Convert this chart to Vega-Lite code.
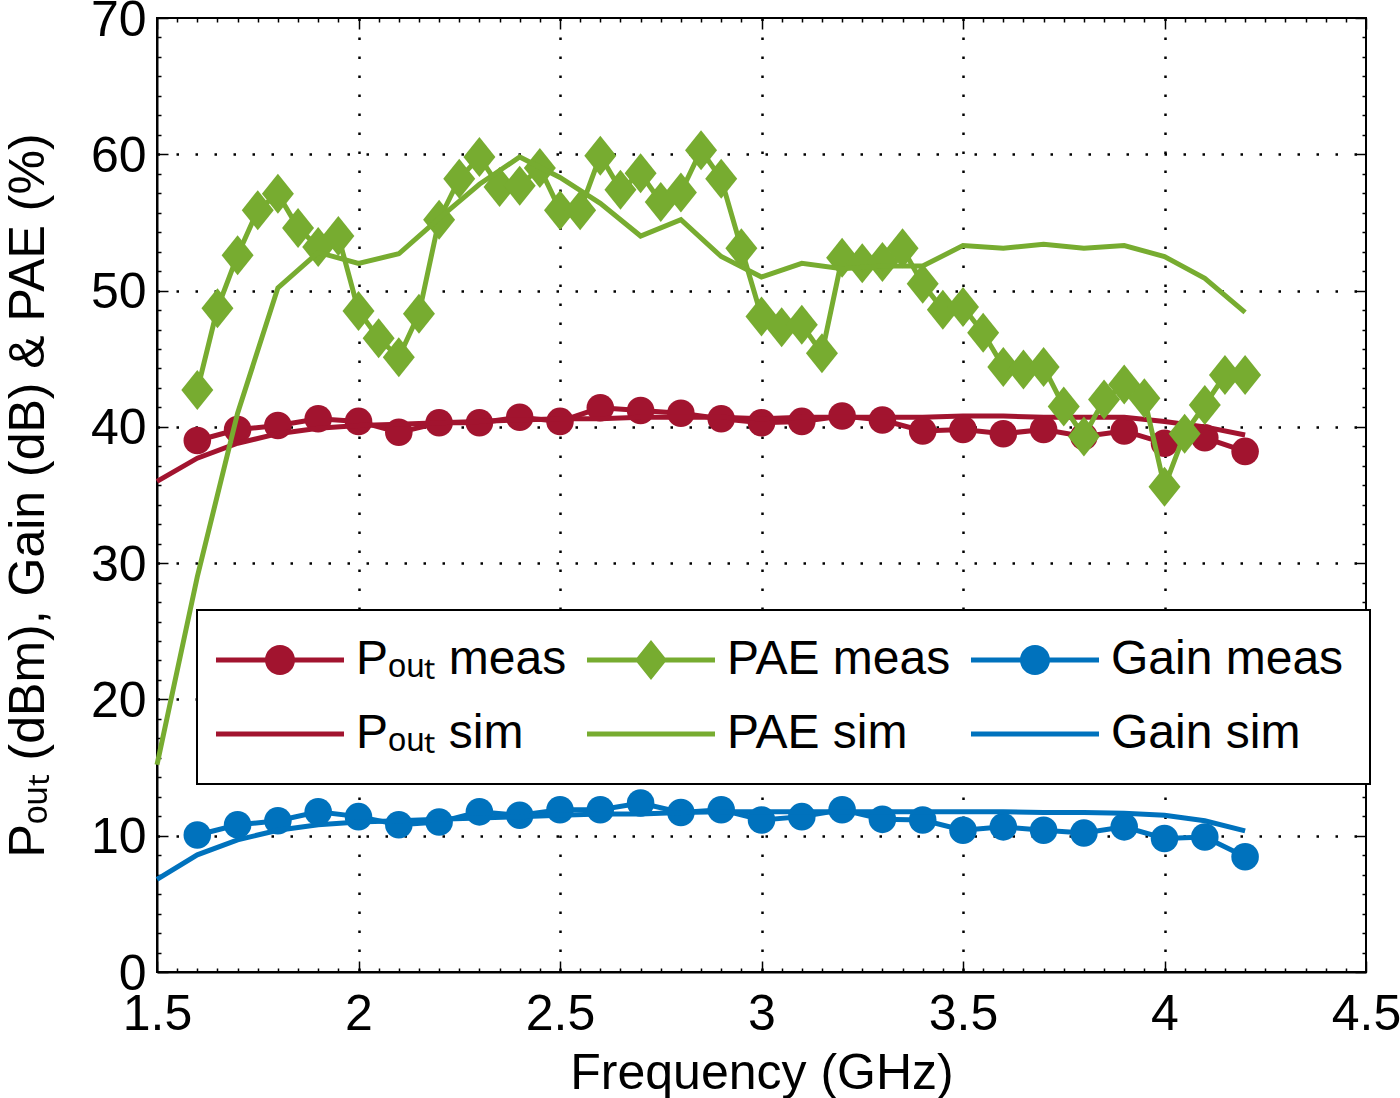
{
  "$schema": "https://vega.github.io/schema/vega-lite/v6.json",
  "width": 1209,
  "height": 954,
  "autosize": {"type": "none"},
  "padding": {"left": 157, "top": 18, "right": 34, "bottom": 126},
  "background": "white",
  "config": {
    "view": {"stroke": "black", "strokeWidth": 2},
    "font": "Liberation Sans",
    "legend": {"strokeWidth": 2}
  },
  "data": {"values": [
    {"f":1.6,"v":39.0,"s":"Pout meas"},{"f":1.7,"v":39.8,"s":"Pout meas"},{"f":1.8,"v":40.1,"s":"Pout meas"},{"f":1.9,"v":40.6,"s":"Pout meas"},{"f":2.0,"v":40.4,"s":"Pout meas"},{"f":2.1,"v":39.6,"s":"Pout meas"},{"f":2.2,"v":40.3,"s":"Pout meas"},{"f":2.3,"v":40.3,"s":"Pout meas"},{"f":2.4,"v":40.7,"s":"Pout meas"},{"f":2.5,"v":40.4,"s":"Pout meas"},{"f":2.6,"v":41.4,"s":"Pout meas"},{"f":2.7,"v":41.2,"s":"Pout meas"},{"f":2.8,"v":41.0,"s":"Pout meas"},{"f":2.9,"v":40.6,"s":"Pout meas"},{"f":3.0,"v":40.3,"s":"Pout meas"},{"f":3.1,"v":40.4,"s":"Pout meas"},{"f":3.2,"v":40.8,"s":"Pout meas"},{"f":3.3,"v":40.5,"s":"Pout meas"},{"f":3.4,"v":39.7,"s":"Pout meas"},{"f":3.5,"v":39.8,"s":"Pout meas"},{"f":3.6,"v":39.5,"s":"Pout meas"},{"f":3.7,"v":39.8,"s":"Pout meas"},{"f":3.8,"v":39.3,"s":"Pout meas"},{"f":3.9,"v":39.7,"s":"Pout meas"},{"f":4.0,"v":38.8,"s":"Pout meas"},{"f":4.1,"v":39.2,"s":"Pout meas"},{"f":4.2,"v":38.2,"s":"Pout meas"},

    {"f":1.5,"v":36.0,"s":"Pout sim"},{"f":1.6,"v":37.7,"s":"Pout sim"},{"f":1.7,"v":38.8,"s":"Pout sim"},{"f":1.8,"v":39.5,"s":"Pout sim"},{"f":1.9,"v":39.9,"s":"Pout sim"},{"f":2.0,"v":40.1,"s":"Pout sim"},{"f":2.1,"v":40.2,"s":"Pout sim"},{"f":2.2,"v":40.3,"s":"Pout sim"},{"f":2.3,"v":40.4,"s":"Pout sim"},{"f":2.4,"v":40.5,"s":"Pout sim"},{"f":2.5,"v":40.6,"s":"Pout sim"},{"f":2.6,"v":40.6,"s":"Pout sim"},{"f":2.7,"v":40.7,"s":"Pout sim"},{"f":2.8,"v":40.7,"s":"Pout sim"},{"f":2.9,"v":40.7,"s":"Pout sim"},{"f":3.0,"v":40.6,"s":"Pout sim"},{"f":3.1,"v":40.7,"s":"Pout sim"},{"f":3.2,"v":40.7,"s":"Pout sim"},{"f":3.3,"v":40.7,"s":"Pout sim"},{"f":3.4,"v":40.7,"s":"Pout sim"},{"f":3.5,"v":40.8,"s":"Pout sim"},{"f":3.6,"v":40.8,"s":"Pout sim"},{"f":3.7,"v":40.7,"s":"Pout sim"},{"f":3.8,"v":40.7,"s":"Pout sim"},{"f":3.9,"v":40.7,"s":"Pout sim"},{"f":4.0,"v":40.4,"s":"Pout sim"},{"f":4.1,"v":40.0,"s":"Pout sim"},{"f":4.2,"v":39.4,"s":"Pout sim"},

    {"f":1.6,"v":42.7,"s":"PAE meas"},{"f":1.65,"v":48.7,"s":"PAE meas"},{"f":1.7,"v":52.6,"s":"PAE meas"},{"f":1.75,"v":55.9,"s":"PAE meas"},{"f":1.8,"v":57.1,"s":"PAE meas"},{"f":1.85,"v":54.6,"s":"PAE meas"},{"f":1.9,"v":53.2,"s":"PAE meas"},{"f":1.95,"v":54.0,"s":"PAE meas"},{"f":2.0,"v":48.5,"s":"PAE meas"},{"f":2.05,"v":46.5,"s":"PAE meas"},{"f":2.1,"v":45.1,"s":"PAE meas"},{"f":2.15,"v":48.3,"s":"PAE meas"},{"f":2.2,"v":55.2,"s":"PAE meas"},{"f":2.25,"v":58.2,"s":"PAE meas"},{"f":2.3,"v":59.8,"s":"PAE meas"},{"f":2.35,"v":57.6,"s":"PAE meas"},{"f":2.4,"v":57.7,"s":"PAE meas"},{"f":2.45,"v":59.0,"s":"PAE meas"},{"f":2.5,"v":55.9,"s":"PAE meas"},{"f":2.55,"v":55.9,"s":"PAE meas"},{"f":2.6,"v":59.9,"s":"PAE meas"},{"f":2.65,"v":57.4,"s":"PAE meas"},{"f":2.7,"v":58.6,"s":"PAE meas"},{"f":2.75,"v":56.5,"s":"PAE meas"},{"f":2.8,"v":57.2,"s":"PAE meas"},{"f":2.85,"v":60.3,"s":"PAE meas"},{"f":2.9,"v":58.2,"s":"PAE meas"},{"f":2.95,"v":53.1,"s":"PAE meas"},{"f":3.0,"v":48.1,"s":"PAE meas"},{"f":3.05,"v":47.3,"s":"PAE meas"},{"f":3.1,"v":47.5,"s":"PAE meas"},{"f":3.15,"v":45.4,"s":"PAE meas"},{"f":3.2,"v":52.4,"s":"PAE meas"},{"f":3.25,"v":52.0,"s":"PAE meas"},{"f":3.3,"v":52.1,"s":"PAE meas"},{"f":3.35,"v":53.1,"s":"PAE meas"},{"f":3.4,"v":50.5,"s":"PAE meas"},{"f":3.45,"v":48.6,"s":"PAE meas"},{"f":3.5,"v":48.8,"s":"PAE meas"},{"f":3.55,"v":46.9,"s":"PAE meas"},{"f":3.6,"v":44.4,"s":"PAE meas"},{"f":3.65,"v":44.2,"s":"PAE meas"},{"f":3.7,"v":44.4,"s":"PAE meas"},{"f":3.75,"v":41.5,"s":"PAE meas"},{"f":3.8,"v":39.3,"s":"PAE meas"},{"f":3.85,"v":42.0,"s":"PAE meas"},{"f":3.9,"v":43.1,"s":"PAE meas"},{"f":3.95,"v":42.1,"s":"PAE meas"},{"f":4.0,"v":35.6,"s":"PAE meas"},{"f":4.05,"v":39.5,"s":"PAE meas"},{"f":4.1,"v":41.6,"s":"PAE meas"},{"f":4.15,"v":43.8,"s":"PAE meas"},{"f":4.2,"v":43.8,"s":"PAE meas"},

    {"f":1.5,"v":15.2,"s":"PAE sim"},{"f":1.6,"v":29.0,"s":"PAE sim"},{"f":1.7,"v":41.0,"s":"PAE sim"},{"f":1.8,"v":50.2,"s":"PAE sim"},{"f":1.9,"v":52.8,"s":"PAE sim"},{"f":2.0,"v":52.0,"s":"PAE sim"},{"f":2.1,"v":52.7,"s":"PAE sim"},{"f":2.2,"v":55.3,"s":"PAE sim"},{"f":2.3,"v":57.8,"s":"PAE sim"},{"f":2.4,"v":59.8,"s":"PAE sim"},{"f":2.5,"v":58.3,"s":"PAE sim"},{"f":2.6,"v":56.4,"s":"PAE sim"},{"f":2.7,"v":54.0,"s":"PAE sim"},{"f":2.8,"v":55.2,"s":"PAE sim"},{"f":2.9,"v":52.5,"s":"PAE sim"},{"f":3.0,"v":51.0,"s":"PAE sim"},{"f":3.1,"v":52.0,"s":"PAE sim"},{"f":3.2,"v":51.6,"s":"PAE sim"},{"f":3.3,"v":51.8,"s":"PAE sim"},{"f":3.4,"v":51.8,"s":"PAE sim"},{"f":3.5,"v":53.3,"s":"PAE sim"},{"f":3.6,"v":53.1,"s":"PAE sim"},{"f":3.7,"v":53.4,"s":"PAE sim"},{"f":3.8,"v":53.1,"s":"PAE sim"},{"f":3.9,"v":53.3,"s":"PAE sim"},{"f":4.0,"v":52.5,"s":"PAE sim"},{"f":4.1,"v":50.9,"s":"PAE sim"},{"f":4.2,"v":48.4,"s":"PAE sim"},

    {"f":1.6,"v":10.05,"s":"Gain meas"},{"f":1.7,"v":10.8,"s":"Gain meas"},{"f":1.8,"v":11.1,"s":"Gain meas"},{"f":1.9,"v":11.75,"s":"Gain meas"},{"f":2.0,"v":11.4,"s":"Gain meas"},{"f":2.1,"v":10.8,"s":"Gain meas"},{"f":2.2,"v":11.0,"s":"Gain meas"},{"f":2.3,"v":11.75,"s":"Gain meas"},{"f":2.4,"v":11.5,"s":"Gain meas"},{"f":2.5,"v":11.9,"s":"Gain meas"},{"f":2.6,"v":11.9,"s":"Gain meas"},{"f":2.7,"v":12.4,"s":"Gain meas"},{"f":2.8,"v":11.7,"s":"Gain meas"},{"f":2.9,"v":11.9,"s":"Gain meas"},{"f":3.0,"v":11.15,"s":"Gain meas"},{"f":3.1,"v":11.4,"s":"Gain meas"},{"f":3.2,"v":11.9,"s":"Gain meas"},{"f":3.3,"v":11.2,"s":"Gain meas"},{"f":3.4,"v":11.15,"s":"Gain meas"},{"f":3.5,"v":10.4,"s":"Gain meas"},{"f":3.6,"v":10.65,"s":"Gain meas"},{"f":3.7,"v":10.4,"s":"Gain meas"},{"f":3.8,"v":10.2,"s":"Gain meas"},{"f":3.9,"v":10.65,"s":"Gain meas"},{"f":4.0,"v":9.8,"s":"Gain meas"},{"f":4.1,"v":9.9,"s":"Gain meas"},{"f":4.2,"v":8.45,"s":"Gain meas"},

    {"f":1.5,"v":6.8,"s":"Gain sim"},{"f":1.6,"v":8.6,"s":"Gain sim"},{"f":1.7,"v":9.7,"s":"Gain sim"},{"f":1.8,"v":10.4,"s":"Gain sim"},{"f":1.9,"v":10.8,"s":"Gain sim"},{"f":2.0,"v":11.0,"s":"Gain sim"},{"f":2.1,"v":11.1,"s":"Gain sim"},{"f":2.2,"v":11.2,"s":"Gain sim"},{"f":2.3,"v":11.3,"s":"Gain sim"},{"f":2.4,"v":11.4,"s":"Gain sim"},{"f":2.5,"v":11.5,"s":"Gain sim"},{"f":2.6,"v":11.6,"s":"Gain sim"},{"f":2.7,"v":11.6,"s":"Gain sim"},{"f":2.8,"v":11.7,"s":"Gain sim"},{"f":2.9,"v":11.75,"s":"Gain sim"},{"f":3.0,"v":11.75,"s":"Gain sim"},{"f":3.1,"v":11.75,"s":"Gain sim"},{"f":3.2,"v":11.75,"s":"Gain sim"},{"f":3.3,"v":11.75,"s":"Gain sim"},{"f":3.4,"v":11.75,"s":"Gain sim"},{"f":3.5,"v":11.75,"s":"Gain sim"},{"f":3.6,"v":11.75,"s":"Gain sim"},{"f":3.7,"v":11.7,"s":"Gain sim"},{"f":3.8,"v":11.7,"s":"Gain sim"},{"f":3.9,"v":11.65,"s":"Gain sim"},{"f":4.0,"v":11.5,"s":"Gain sim"},{"f":4.1,"v":11.1,"s":"Gain sim"},{"f":4.2,"v":10.35,"s":"Gain sim"}
  ]},
  "resolve": {"axis": {"x": "independent", "y": "independent"}},
  "layer": [
    {
      "encoding": {
        "x": {"field": "f", "type": "quantitative",
          "scale": {"domain": [1.5, 4.5], "nice": false, "zero": false},
          "axis": {
            "orient": "bottom",
            "title": "Frequency (GHz)",
            "titleFont": "Liberation Sans", "titleFontSize": 50, "titleFontWeight": "normal", "titleColor": "black", "titlePadding": 2,
            "values": [1.5,1.55,1.6,1.65,1.7,1.75,1.8,1.85,1.9,1.95,2,2.05,2.1,2.15,2.2,2.25,2.3,2.35,2.4,2.45,2.5,2.55,2.6,2.65,2.7,2.75,2.8,2.85,2.9,2.95,3,3.05,3.1,3.15,3.2,3.25,3.3,3.35,3.4,3.45,3.5,3.55,3.6,3.65,3.7,3.75,3.8,3.85,3.9,3.95,4,4.05,4.1,4.15,4.2,4.25,4.3,4.35,4.4,4.45,4.5],
            "labelExpr": "abs(datum.value*2 - round(datum.value*2)) < 0.001 ? format(datum.value, '.1~f') : ''",
            "labelFont": "Liberation Sans", "labelFontSize": 50, "labelColor": "black",
            "labelFlush": false, "labelOverlap": false, "labelPadding": 28,
            "tickSize": {"condition": {"test": "abs(datum.value*2 - round(datum.value*2)) < 0.001", "value": -11}, "value": -4},
            "tickColor": "black", "tickWidth": 1.5,
            "domainColor": "black", "domainWidth": 2,
            "grid": true, "gridColor": "black", "gridWidth": 2.5, "gridDash": [2.5, 16.5],
            "gridOpacity": {"condition": {"test": "abs(datum.value*2 - round(datum.value*2)) < 0.001 && datum.value > 1.6 && datum.value < 4.4", "value": 1}, "value": 0}
          }},
        "y": {"field": "v", "type": "quantitative",
          "scale": {"domain": [0, 70], "nice": false},
          "axis": {
            "orient": "left",
            "title": "Pₒᵤₜ (dBm), Gain (dB) & PAE (%)",
            "titleFont": "Liberation Sans", "titleFontSize": 50, "titleFontWeight": "normal", "titleColor": "black", "titlePadding": 37,
            "values": [0,1.43,2.86,4.29,5.71,7.14,8.57,10,11.43,12.86,14.29,15.71,17.14,18.57,20,21.43,22.86,24.29,25.71,27.14,28.57,30,31.43,32.86,34.29,35.71,37.14,38.57,40,41.43,42.86,44.29,45.71,47.14,48.57,50,51.43,52.86,54.29,55.71,57.14,58.57,60,61.43,62.86,64.29,65.71,67.14,68.57,70],
            "labelExpr": "datum.value % 10 === 0 ? format(datum.value, 'd') : ''",
            "labelFont": "Liberation Sans", "labelFontSize": 50, "labelColor": "black",
            "labelFlush": false, "labelOverlap": false, "labelPadding": 22, "labelOffset": 2,
            "tickSize": {"condition": {"test": "datum.value % 10 === 0", "value": -11}, "value": -4},
            "tickColor": "black", "tickWidth": 1.5,
            "domainColor": "black", "domainWidth": 2,
            "grid": true, "gridColor": "black", "gridWidth": 2.5, "gridDash": [2.5, 16.5],
            "gridOpacity": {"condition": {"test": "datum.value % 10 === 0 && datum.value > 0 && datum.value < 70", "value": 1}, "value": 0}
          }}
      },
      "layer": [
        {"transform": [{"filter": "datum.s === 'Pout meas'"}], "mark": {"type": "line", "color": "#A2142F", "strokeWidth": 5}},
        {"transform": [{"filter": "datum.s === 'Pout meas'"}], "mark": {"type": "point", "shape": "circle", "filled": true, "color": "#A2142F", "opacity": 1, "size": 760}},
        {"transform": [{"filter": "datum.s === 'Pout sim'"}], "mark": {"type": "line", "color": "#A2142F", "strokeWidth": 5}},
        {"transform": [{"filter": "datum.s === 'PAE meas'"}], "mark": {"type": "line", "color": "#77AC30", "strokeWidth": 5}},
        {"transform": [{"filter": "datum.s === 'PAE meas'"}], "mark": {"type": "point", "shape": "M0,-1L0.8,0L0,1L-0.8,0Z", "filled": true, "color": "#77AC30", "opacity": 1, "size": 1600}},
        {"transform": [{"filter": "datum.s === 'PAE sim'"}], "mark": {"type": "line", "color": "#77AC30", "strokeWidth": 5}},
        {"transform": [{"filter": "datum.s === 'Gain meas'"}], "mark": {"type": "line", "color": "#0072BD", "strokeWidth": 5}},
        {"transform": [{"filter": "datum.s === 'Gain meas'"}], "mark": {"type": "point", "shape": "circle", "filled": true, "color": "#0072BD", "opacity": 1, "size": 760}},
        {"transform": [{"filter": "datum.s === 'Gain sim'"}], "mark": {"type": "line", "color": "#0072BD", "strokeWidth": 5}}
      ]
    },
    {
      "transform": [{"filter": "false"}],
      "mark": {"type": "point", "filled": true, "opacity": 1},
      "encoding": {
        "x": {"field": "f", "type": "quantitative",
          "axis": {"orient": "top", "title": null, "labels": false, "grid": false, "domain": false,
            "values": [1.5,1.55,1.6,1.65,1.7,1.75,1.8,1.85,1.9,1.95,2,2.05,2.1,2.15,2.2,2.25,2.3,2.35,2.4,2.45,2.5,2.55,2.6,2.65,2.7,2.75,2.8,2.85,2.9,2.95,3,3.05,3.1,3.15,3.2,3.25,3.3,3.35,3.4,3.45,3.5,3.55,3.6,3.65,3.7,3.75,3.8,3.85,3.9,3.95,4,4.05,4.1,4.15,4.2,4.25,4.3,4.35,4.4,4.45,4.5],
            "tickSize": {"condition": {"test": "abs(datum.value*2 - round(datum.value*2)) < 0.001", "value": -11}, "value": -4},
            "tickColor": "black", "tickWidth": 1.5}},
        "y": {"field": "v", "type": "quantitative",
          "axis": {"orient": "right", "title": null, "labels": false, "grid": false, "domain": false,
            "values": [0,1.43,2.86,4.29,5.71,7.14,8.57,10,11.43,12.86,14.29,15.71,17.14,18.57,20,21.43,22.86,24.29,25.71,27.14,28.57,30,31.43,32.86,34.29,35.71,37.14,38.57,40,41.43,42.86,44.29,45.71,47.14,48.57,50,51.43,52.86,54.29,55.71,57.14,58.57,60,61.43,62.86,64.29,65.71,67.14,68.57,70],
            "tickSize": {"condition": {"test": "datum.value % 10 === 0", "value": -11}, "value": -4},
            "tickColor": "black", "tickWidth": 1.5}},
        "color": {"field": "s", "type": "nominal",
          "scale": {"domain": ["Pout meas", "Pout sim", "PAE meas", "PAE sim", "Gain meas", "Gain sim"],
                    "range": ["#A2142F", "#A2142F", "#77AC30", "#77AC30", "#0072BD", "#0072BD"]},
          "legend": {
            "orient": "none", "legendX": 40, "legendY": 592, "columns": 3, "title": null,
            "labelExpr": "replace(datum.label, 'Pout', 'Pₒᵤₜ')",
            "labelFont": "Liberation Sans", "labelFontSize": 48, "labelColor": "black", "labelLimit": 0,
            "labelOffset": 85, "symbolSize": 900, "symbolStrokeWidth": 0, "symbolOpacity": 1, "symbolOffset": 0,
            "strokeColor": "black", "fillColor": "white", "padding": 26, "rowPadding": 26, "columnPadding": 19, "gridAlign": "each"
          }},
        "shape": {"field": "s", "type": "nominal",
          "scale": {"domain": ["Pout meas", "Pout sim", "PAE meas", "PAE sim", "Gain meas", "Gain sim"],
                    "range": [
                      "M-2.067,-0.167L1.23,-0.167L1.23,0.167L-2.067,0.167Z M3.17,-0.167L6.467,-0.167L6.467,0.167L3.17,0.167Z M1.2,0A1,1 0 1,1 3.2,0A1,1 0 1,1 1.2,0Z",
                      "M-2.067,-0.167L6.467,-0.167L6.467,0.167L-2.067,0.167Z",
                      "M-2.067,-0.167L1.33,-0.167L1.33,0.167L-2.067,0.167Z M3.07,-0.167L6.467,-0.167L6.467,0.167L3.07,0.167Z M2.2,-1.333L3.267,0L2.2,1.333L1.133,0Z",
                      "M-2.067,-0.167L6.467,-0.167L6.467,0.167L-2.067,0.167Z",
                      "M-2.067,-0.167L1.23,-0.167L1.23,0.167L-2.067,0.167Z M3.17,-0.167L6.467,-0.167L6.467,0.167L3.17,0.167Z M1.2,0A1,1 0 1,1 3.2,0A1,1 0 1,1 1.2,0Z",
                      "M-2.067,-0.167L6.467,-0.167L6.467,0.167L-2.067,0.167Z"
                    ]},
          "legend": {
            "orient": "none", "legendX": 40, "legendY": 592, "columns": 3, "title": null,
            "labelExpr": "replace(datum.label, 'Pout', 'Pₒᵤₜ')",
            "labelFont": "Liberation Sans", "labelFontSize": 48, "labelColor": "black", "labelLimit": 0,
            "labelOffset": 85, "symbolSize": 900, "symbolStrokeWidth": 0, "symbolOpacity": 1, "symbolOffset": 0,
            "strokeColor": "black", "fillColor": "white", "padding": 26, "rowPadding": 26, "columnPadding": 19, "gridAlign": "each"
          }}
      }
    }
  ]
}
